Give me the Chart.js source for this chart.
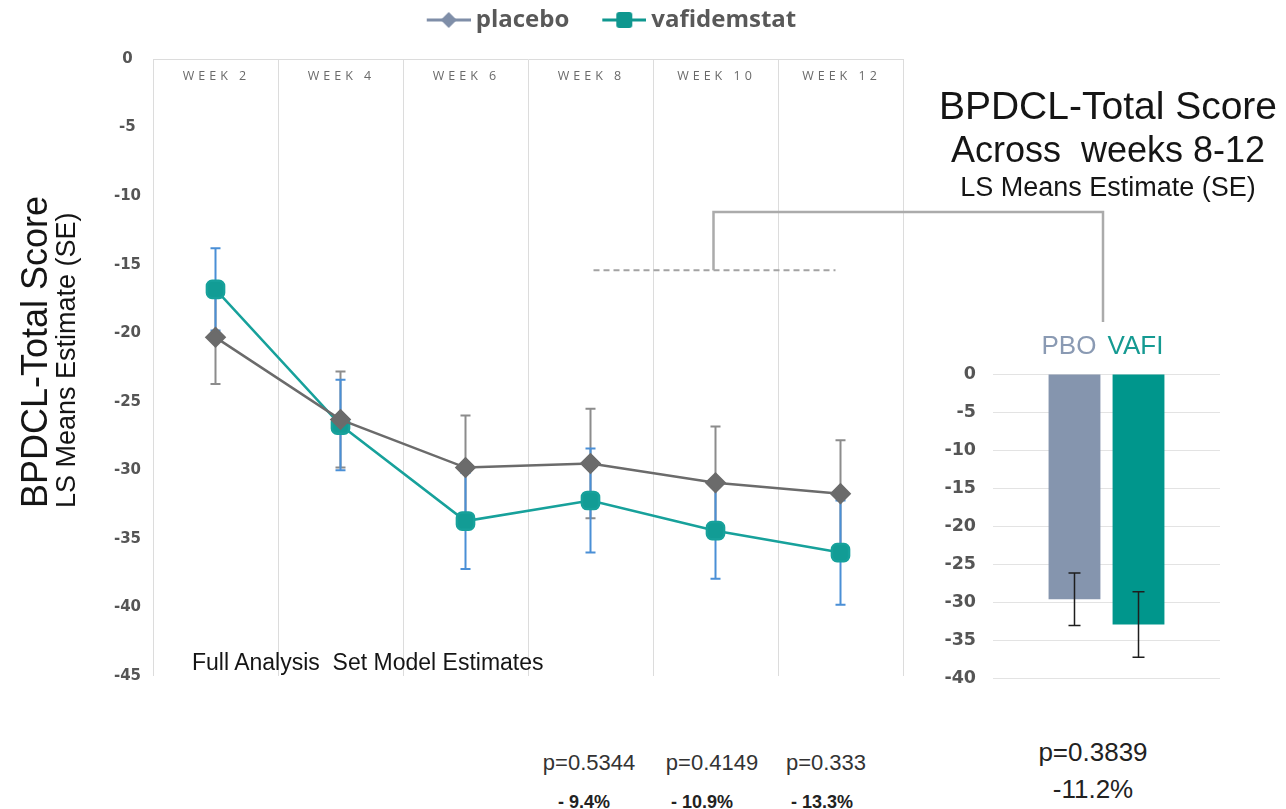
<!DOCTYPE html>
<html>
<head>
<meta charset="utf-8">
<script src="https://cdn.jsdelivr.net/npm/chart.js@4.4.1/dist/chart.umd.min.js"></script>
<style>
body{margin:0;background:#fff;width:1286px;height:809px;overflow:hidden;position:relative;font-family:"Liberation Sans",Arial,sans-serif;color:#151515}
.txt{position:absolute;white-space:pre;line-height:1}
.c{text-align:center;width:500px}
</style>
</head>
<body>
<canvas id="lineChart" width="1198" height="700" style="position:absolute;left:0;top:0"></canvas>
<canvas id="barChart" width="300" height="376" style="position:absolute;left:930px;top:330px"></canvas>

<div style="position:absolute;left:17px;top:508px;transform:rotate(-90deg);transform-origin:0 0;white-space:nowrap;line-height:1"><div style="font-size:36px;line-height:36px">BPDCL-Total Score</div><div style="font-size:27px;line-height:27px">LS Means Estimate (SE)</div></div>

<div class="txt c" style="left:858px;top:86px;font-size:39px">BPDCL-Total Score</div>
<div class="txt c" style="left:858px;top:132px;font-size:36px">Across  weeks 8-12</div>
<div class="txt c" style="left:858px;top:174px;font-size:27px">LS Means Estimate (SE)</div>

<div class="txt" style="left:192px;top:651px;font-size:23px">Full Analysis  Set Model Estimates</div>

<div class="txt c" style="left:339px;top:752px;font-size:22px;color:#333">p=0.5344</div>
<div class="txt c" style="left:462px;top:752px;font-size:22px;color:#333">p=0.4149</div>
<div class="txt c" style="left:576px;top:752px;font-size:22px;color:#333">p=0.333</div>
<div class="txt c" style="left:334px;top:793px;font-size:18px;font-weight:bold;color:#222">- 9.4%</div>
<div class="txt c" style="left:452px;top:793px;font-size:18px;font-weight:bold;color:#222">- 10.9%</div>
<div class="txt c" style="left:572px;top:793px;font-size:18px;font-weight:bold;color:#222">- 13.3%</div>

<div class="txt c" style="left:843px;top:739px;font-size:26px;color:#222">p=0.3839</div>
<div class="txt c" style="left:843px;top:776px;font-size:26px;color:#222">-11.2%</div>

<script>
// weekly LS means (SE)
const weeks = ["WEEK 2", "WEEK 4", "WEEK 6", "WEEK 8", "WEEK 10", "WEEK 12"];
const placebo = [-20.3, -26.3, -29.8, -29.5, -30.9, -31.7];
const placeboSE = [3.4, 3.5, 3.8, 4.0, 4.1, 3.9];
const vafidemstat = [-16.8, -26.7, -33.7, -32.2, -34.4, -36.0];
const vafidemstatSE = [3.0, 3.3, 3.5, 3.8, 3.5, 3.8];

// pooled weeks 8-12
const groups = ["PBO", "VAFI"];
const acrossMeans = [-29.6, -32.9];
const acrossSE = [3.45, 4.3];

const grey = '#6b6b6b';
const teal = '#129c95';

// legend icons: short line with the marker on it (left part left blank for spacing)
function legendIcon(color, shape) {
    let c = document.createElement('canvas');
    c.width = 76; c.height = 20;
    let g = c.getContext('2d');
    g.strokeStyle = color; g.fillStyle = color; g.lineWidth = 3;
    g.beginPath(); g.moveTo(32, 10); g.lineTo(76, 10); g.stroke();
    g.beginPath();
    if (shape == 'diamond') {
        g.moveTo(54, 2); g.lineTo(62, 10); g.lineTo(54, 18); g.lineTo(46, 10);
    } else {
        g.roundRect(46, 2, 16, 16, 3);
    }
    g.fill();
    return c;
}
const icons = [legendIcon('#7f8ea8', 'diamond'), legendIcon('#0f978f', 'square')];

const errorBars = {
    id: 'errorBars',
    beforeDatasetsDraw(chart) {
        const ctx = chart.ctx, y = chart.scales.y;
        chart.data.datasets.forEach((ds, i) => {
            const meta = chart.getDatasetMeta(i);
            ctx.save();
            ctx.strokeStyle = ds.errColor;
            ctx.lineWidth = 2;
            meta.data.forEach((pt, j) => {
                let top = y.getPixelForValue(ds.data[j] + ds.se[j]);
                let bot = y.getPixelForValue(ds.data[j] - ds.se[j]);
                ctx.beginPath();
                ctx.moveTo(pt.x, top); ctx.lineTo(pt.x, bot);
                ctx.moveTo(pt.x - 5, top); ctx.lineTo(pt.x + 5, top);
                ctx.moveTo(pt.x - 5, bot); ctx.lineTo(pt.x + 5, bot);
                ctx.stroke();
            });
            ctx.restore();
        });
    }
};

const weekLabels = {
    id: 'weekLabels',
    beforeDatasetsDraw(chart) {
        const ctx = chart.ctx, x = chart.scales.x;
        ctx.save();
        ctx.font = '12.5px "Open Sans"';
        ctx.letterSpacing = '4px';
        ctx.fillStyle = '#6a6a6a';
        ctx.textAlign = 'center';
        ctx.textBaseline = 'middle';
        weeks.forEach((w, i) => ctx.fillText(w, x.getPixelForValue(i) + 1, chart.chartArea.top + 17));
        ctx.restore();
    }
};

// dashed line over weeks 8-12 and the bracket to the bar panel
const bracket = {
    id: 'bracket',
    afterDatasetsDraw(chart) {
        const ctx = chart.ctx, x = chart.scales.x, y = chart.scales.y;
        let lvl = y.getPixelForValue(-15.4);
        let mid = x.getPixelForValue(4) - 2;
        ctx.save();
        ctx.strokeStyle = '#a3a3a3';
        ctx.lineWidth = 2;
        ctx.setLineDash([6, 4]);
        ctx.beginPath();
        ctx.moveTo(x.getPixelForValue(3) + 3, lvl);
        ctx.lineTo(x.getPixelForValue(5) - 5, lvl);
        ctx.stroke();
        ctx.setLineDash([]);
        ctx.lineWidth = 2.5;
        ctx.strokeStyle = '#ababab';
        ctx.beginPath();
        ctx.moveTo(mid, lvl);
        ctx.lineTo(mid, 212);
        ctx.lineTo(1103, 212);
        ctx.lineTo(1103, 322);
        ctx.stroke();
        ctx.restore();
    }
};

new Chart(document.getElementById('lineChart'), {
    type: 'line',
    data: {
        labels: weeks,
        datasets: [
            {
                label: 'placebo',
                data: placebo,
                se: placeboSE,
                errColor: '#8c8c8c',
                borderColor: grey,
                backgroundColor: grey,
                borderWidth: 2.5,
                pointStyle: 'rectRot',
                pointRadius: 9,
                pointHoverRadius: 9,
                tension: 0
            },
            {
                label: 'vafidemstat',
                data: vafidemstat,
                se: vafidemstatSE,
                errColor: '#4a8fd6',
                borderColor: '#17a19b',
                backgroundColor: teal,
                borderWidth: 2.5,
                pointStyle: 'rectRounded',
                pointRadius: 10,
                pointHoverRadius: 10,
                tension: 0
            }
        ]
    },
    options: {
        responsive: false,
        animation: false,
        layout: { padding: { bottom: 24 } },
        plugins: {
            tooltip: { enabled: false },
            legend: {
                position: 'top',
                labels: {
                    usePointStyle: true,
                    pointStyleWidth: 62,
                    boxHeight: 20,
                    padding: 8,
                    color: '#595959',
                    font: { family: 'Open Sans', weight: 'bold', size: 24 },
                    generateLabels: (chart) => chart.data.datasets.map((ds, i) => ({
                        text: ds.label,
                        pointStyle: icons[i],
                        fillStyle: ds.backgroundColor,
                        strokeStyle: ds.borderColor,
                        lineWidth: 0,
                        hidden: false,
                        datasetIndex: i,
                        fontColor: '#595959'
                    }))
                }
            }
        },
        scales: {
            x: {
                position: 'top',
                offset: true,
                grid: { offset: true, color: '#dcdcdc', drawTicks: false },
                border: { display: true, color: '#dcdcdc' },
                ticks: { display: false },
                afterFit(s) { s.height = Math.max(0, 59 - (s.chart.legend ? s.chart.legend.height : 45)); }
            },
            y: {
                min: -45,
                max: 0,
                ticks: { stepSize: 5, padding: 4, crossAlign: 'center', color: '#555', font: { family: 'DejaVu Sans', weight: 'bold', size: 15 } },
                grid: { display: false },
                border: { display: false },
                afterFit(s) { s.width = 153; }
            },
            yr: {
                position: 'right',
                min: -45,
                max: 0,
                grid: { display: false },
                ticks: { display: false },
                border: { display: false },
                afterFit(s) { s.width = 295; }
            }
        }
    },
    plugins: [errorBars, weekLabels, bracket]
});

const barExtras = {
    id: 'barExtras',
    afterDatasetsDraw(chart) {
        const ctx = chart.ctx, y = chart.scales.y;
        ctx.save();
        chart.data.datasets.forEach((ds, i) => {
            let bar = chart.getDatasetMeta(i).data[0];
            let top = y.getPixelForValue(ds.data[0] + ds.se);
            let bot = y.getPixelForValue(ds.data[0] - ds.se);
            ctx.strokeStyle = '#1e1e1e';
            ctx.lineWidth = 1.5;
            ctx.beginPath();
            ctx.moveTo(bar.x, top); ctx.lineTo(bar.x, bot);
            ctx.moveTo(bar.x - 6, top); ctx.lineTo(bar.x + 6, top);
            ctx.moveTo(bar.x - 6, bot); ctx.lineTo(bar.x + 6, bot);
            ctx.stroke();

            ctx.font = '26px "Liberation Sans"';
            ctx.fillStyle = ds.labelColor;
            ctx.textBaseline = 'middle';
            if (i == 0) {
                ctx.textAlign = 'right';
                ctx.fillText(ds.label, bar.x + bar.width / 2 - 4, chart.chartArea.top - 27);
            } else {
                ctx.textAlign = 'left';
                ctx.fillText(ds.label, bar.x - bar.width / 2 - 5, chart.chartArea.top - 27);
            }
        });
        ctx.restore();
    }
};

new Chart(document.getElementById('barChart'), {
    type: 'bar',
    data: {
        labels: ['Across weeks 8-12'],
        datasets: [
            { label: groups[0], data: [acrossMeans[0]], se: acrossSE[0], backgroundColor: '#8595ae', labelColor: '#8a9ab3' },
            { label: groups[1], data: [acrossMeans[1]], se: acrossSE[1], backgroundColor: '#00968c', labelColor: '#159a92' }
        ]
    },
    options: {
        responsive: false,
        animation: false,
        layout: { padding: { top: 44, bottom: 0, right: 10 } },
        categoryPercentage: 0.564,
        barPercentage: 0.81,
        plugins: { legend: { display: false }, tooltip: { enabled: false } },
        scales: {
            x: { display: false },
            y: {
                min: -40,
                max: 0,
                ticks: { stepSize: 5, padding: 17, color: '#555', font: { family: 'DejaVu Sans', weight: 'bold', size: 17.5 } },
                grid: { color: '#e3e3e3', drawTicks: false },
                border: { display: false },
                afterFit(s) { s.width = 63; }
            }
        }
    },
    plugins: [barExtras]
});
</script>
</body>
</html>
